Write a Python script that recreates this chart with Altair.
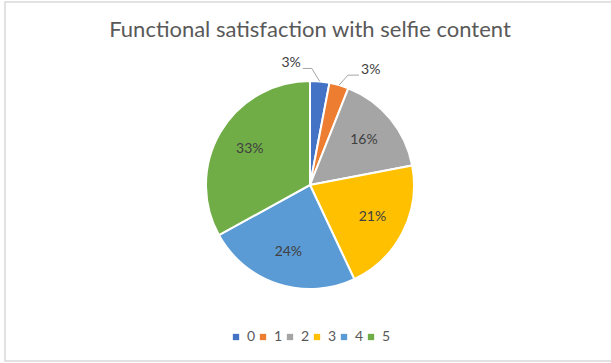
import altair as alt
import pandas as pd
import numpy as np

# ---- data ----
categories = ["0", "1", "2", "3", "4", "5"]
shares = [3, 3, 16, 21, 24, 33]
labels = ["3%", "3%", "16%", "21%", "24%", "33%"]
colors = ["#4472C4", "#ED7D31", "#A5A5A5", "#FFC000", "#5B9BD5", "#70AD47"]
title_text = "Functional satisfaction with selfie content"

# ---- layout / style constants ----
W, H = 611, 363
CX, CY = 310, 185
R = 104
R_IN = 70
FONT = "Lato"
# leader line style for outside labels: (elbow dx, elbow dy, horizontal run)
LEADER = {"0": (-8, -13, -9), "1": (9, -10, 11)}

df = pd.DataFrame({"cat": categories, "share": shares, "label": labels,
                   "order": list(range(len(categories)))})
total = float(sum(shares))
cum = np.concatenate([[0], np.cumsum(shares)])
mid = [(cum[i] + shares[i] / 2.0) / total * 2 * np.pi for i in range(len(shares))]
df["mid"] = mid

# inside labels
inner = df[df["cat"].isin([c for c in categories if c not in LEADER])].copy()
inner["px"] = CX + R_IN * np.sin(inner["mid"])
inner["py"] = CY - R_IN * np.cos(inner["mid"])

# leader lines + outside labels
line_rows, out_rows = [], []
for cat in LEADER:
    row = df[df["cat"] == cat].iloc[0]
    dx, dy, run = LEADER[cat]
    sx = CX + R * np.sin(row["mid"])
    sy = CY - R * np.cos(row["mid"])
    ex, ey = sx + dx, sy + dy
    fx = ex + run
    line_rows += [{"cat": cat, "step": 0, "lx": sx, "ly": sy},
                  {"cat": cat, "step": 1, "lx": ex, "ly": ey},
                  {"cat": cat, "step": 2, "lx": fx, "ly": ey}]
    side = 1 if run > 0 else -1
    out_rows.append({"cat": cat, "label": row["label"], "px": fx + side * 2,
                     "py": ey - 5, "side": "right" if side > 0 else "left"})
lines_df = pd.DataFrame(line_rows)
out_df = pd.DataFrame(out_rows)

xs = alt.Scale(domain=[0, W], range=[0, W])
ys = alt.Scale(domain=[0, H], range=[0, H])

border = alt.Chart(pd.DataFrame({"a": [0]})).mark_rect(
    fillOpacity=0, stroke="#D9D9D9", strokeWidth=1.5
).encode(x=alt.value(5), x2=alt.value(640), y=alt.value(2), y2=alt.value(361))

pie = alt.Chart(df).mark_arc(outerRadius=R, stroke="white", strokeWidth=2).encode(
    theta=alt.Theta("share:Q", stack=True),
    color=alt.Color(
        "cat:N",
        scale=alt.Scale(domain=categories, range=colors),
        legend=alt.Legend(
            title=None, orient="none", legendX=229, legendY=330,
            direction="horizontal", symbolType="square", symbolSize=40,
            symbolStrokeWidth=0, labelFontSize=14, labelColor="#595959",
            labelFont=FONT, columnPadding=-2.5, labelOffset=4,
        ),
    ),
    order=alt.Order("order:Q"),
    x=alt.value(CX),
    y=alt.value(CY),
)

text_inner = alt.Chart(inner).mark_text(
    fontSize=14, color="#404040", font=FONT
).encode(
    x=alt.X("px:Q", scale=xs, axis=None),
    y=alt.Y("py:Q", scale=ys, axis=None),
    text="label:N",
)

leaders = alt.Chart(lines_df).mark_line(color="#A6A6A6", strokeWidth=1).encode(
    x=alt.X("lx:Q", scale=xs, axis=None),
    y=alt.Y("ly:Q", scale=ys, axis=None),
    detail="cat:N",
    order="step:Q",
)

out_left = alt.Chart(out_df).transform_filter(alt.datum.side == "left").mark_text(
    fontSize=14, color="#404040", font=FONT, align="right"
).encode(
    x=alt.X("px:Q", scale=xs, axis=None),
    y=alt.Y("py:Q", scale=ys, axis=None),
    text="label:N",
)
out_right = alt.Chart(out_df).transform_filter(alt.datum.side == "right").mark_text(
    fontSize=14, color="#404040", font=FONT, align="left"
).encode(
    x=alt.X("px:Q", scale=xs, axis=None),
    y=alt.Y("py:Q", scale=ys, axis=None),
    text="label:N",
)

title = alt.Chart(pd.DataFrame({"t": [title_text]})).mark_text(
    fontSize=22, color="#595959", font=FONT
).encode(text="t:N", x=alt.value(310), y=alt.value(30))

chart = alt.layer(
    border, pie, leaders, text_inner, out_left, out_right, title
).properties(
    width=W, height=H, autosize=alt.AutoSizeParams(type="none"), padding=0,
    background="white",
).configure_view(stroke=None)

chart.save("out.html", embed_options={"renderer": "svg", "actions": False})
